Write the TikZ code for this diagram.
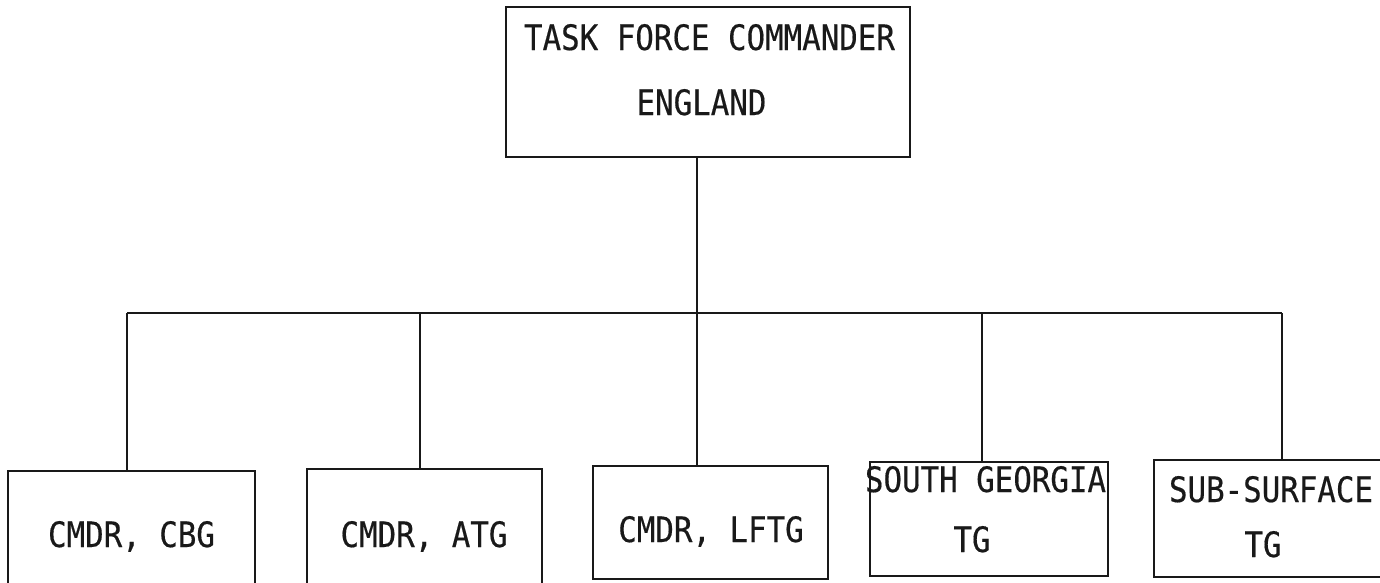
\documentclass[tikz,border=0pt]{standalone}
\usepackage{fontspec}
\newfontfamily\boxfont{DejaVu Sans Mono}[FakeStretch=0.88,FakeBold=0.4]
\begin{document}
\begin{tikzpicture}[x=1pt,y=-1pt,
  box/.style={draw=black!90,line width=2.5pt,rectangle,inner sep=0pt},
  lbl/.style={inner sep=0pt,anchor=base,font=\boxfont\fontsize{35}{40}\selectfont,text=black!90},
  conn/.style={draw=black!90,line width=2.5pt}]
\useasboundingbox[fill=white] (0,0) rectangle (1380,582);
\clip (0,0) rectangle (1380,582);
% boxes
\node[box,minimum width=404pt,minimum height=150pt] (top) at (708,82) {};
\node[box,minimum width=247pt,minimum height=129pt] (cbg) at (131.5,535.5) {};
\node[box,minimum width=235pt,minimum height=131pt] (atg) at (424.5,534.5) {};
\node[box,minimum width=235pt,minimum height=113pt] (lftg) at (710.5,522.5) {};
\node[box,minimum width=238pt,minimum height=114pt] (sg) at (989,519) {};
\node[box,minimum width=241pt,minimum height=117pt] (ss) at (1274.5,518.5) {};
% labels
\node[lbl] (t1) at (709.5,50) {TASK FORCE COMMANDER};
\node[lbl] (t2) at (701.5,115) {ENGLAND};
\node[lbl] (l1) at (131.5,547) {CMDR, CBG};
\node[lbl] (l2) at (424,547) {CMDR, ATG};
\node[lbl] (l3) at (711,542) {CMDR, LFTG};
\node[lbl] (l4a) at (985.5,492) {SOUTH GEORGIA};
\node[lbl] (l4b) at (972,552) {TG};
\node[lbl] (l5a) at (1271,502) {SUB-SURFACE};
\node[lbl] (l5b) at (1263,557) {TG};
% bus
\coordinate (j1) at (127,313);
\coordinate (j2) at (420,313);
\coordinate (j3) at (697,313);
\coordinate (j4) at (982,313);
\coordinate (j5) at (1282,313);
\draw[conn] (top.south -| j3) -- (j3);
\draw[conn] (j1) -- (j5);
\draw[conn] (j1) -- (j1 |- cbg.north);
\draw[conn] (j2) -- (j2 |- atg.north);
\draw[conn] (j3) -- (j3 |- lftg.north);
\draw[conn] (j4) -- (j4 |- sg.north);
\draw[conn] (j5) -- (j5 |- ss.north);
\end{tikzpicture}
\end{document}
